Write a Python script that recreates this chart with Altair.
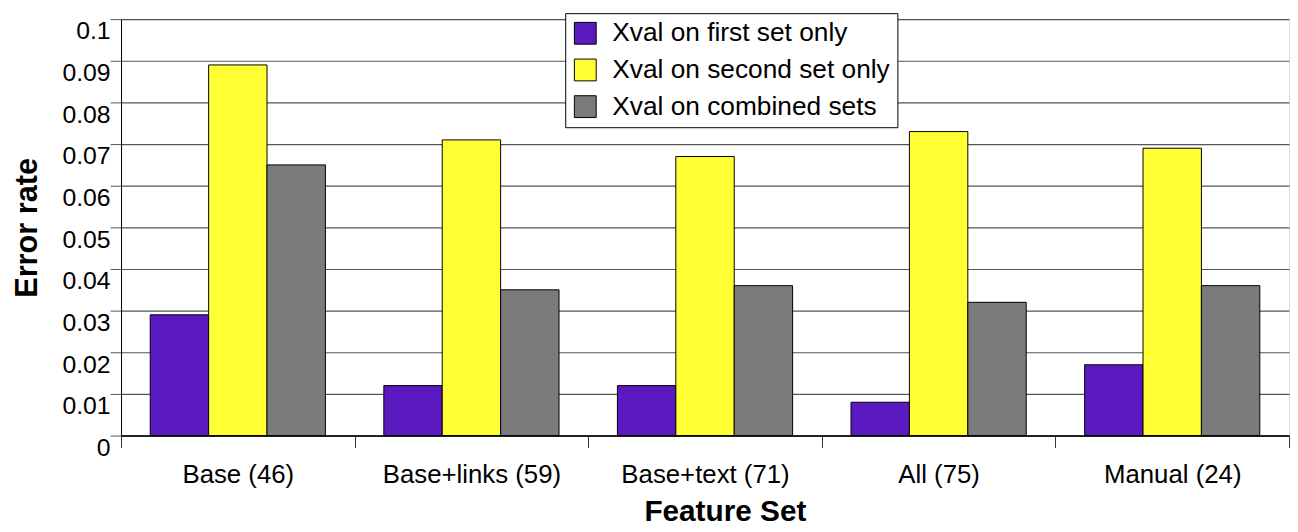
import altair as alt
import pandas as pd

categories = ["Base (46)", "Base+links (59)", "Base+text (71)", "All (75)", "Manual (24)"]
series_names = ["Xval on first set only", "Xval on second set only", "Xval on combined sets"]
first_set = [0.029, 0.012, 0.012, 0.008, 0.017]
second_set = [0.089, 0.071, 0.067, 0.073, 0.069]
combined_sets = [0.065, 0.035, 0.036, 0.032, 0.036]
colors = ["#5b19c0", "#ffff33", "#7b7b7b"]
y_ticks = [0.0, 0.01, 0.02, 0.03, 0.04, 0.05, 0.06, 0.07, 0.08, 0.09, 0.1]

rows = []
for s, vals in zip(series_names, [first_set, second_set, combined_sets]):
    for c, v in zip(categories, vals):
        rows.append({"feature": c, "series": s, "value": v})
df = pd.DataFrame(rows)

FONT = "Liberation Sans"

chart = alt.Chart(df).mark_bar(stroke="black", strokeWidth=1).encode(
    x=alt.X(
        "feature:N",
        sort=categories,
        title="Feature Set",
        scale=alt.Scale(paddingInner=0, paddingOuter=0),
        axis=alt.Axis(
            labelAngle=0,
            tickBand="extent",
            tickSize=12,
            tickColor="#333333",
            labelPadding=14,
            labelFontSize=26,
            labelLimit=400,
            labelColor="black",
            labelFont=FONT,
            domainColor="black",
            domainWidth=1.5,
            grid=False,
            titleFont=FONT,
            titleFontSize=30,
            titleFontWeight="bold",
            titleColor="black",
            titlePadding=10,
            titleX=609,
            titleAlign="center",
        ),
    ),
    xOffset=alt.XOffset("series:N", sort=series_names,
                        scale=alt.Scale(paddingInner=0, paddingOuter=0.5)),
    y=alt.Y(
        "value:Q",
        title="Error rate",
        scale=alt.Scale(domain=[0, 0.1], nice=False),
        axis=alt.Axis(
            values=y_ticks,
            format=".2~f",
            labelBaseline="top",
            labelFontSize=25,
            labelFont=FONT,
            labelColor="black",
            labelPadding=0,
            tickSize=11,
            tickColor="#555555",
            gridColor="#555555",
            gridWidth=1.2,
            domainColor="black",
            domainWidth=1,
            titleFont=FONT,
            titleFontSize=31,
            titleFontWeight="bold",
            titleColor="black",
            titlePadding=19,
        ),
    ),
    color=alt.Color(
        "series:N",
        sort=series_names,
        scale=alt.Scale(domain=series_names, range=colors),
        legend=alt.Legend(
            title=None,
            orient="none",
            legendX=448,
            legendY=-6,
            fillColor="white",
            strokeColor="black",
            padding=7,
            rowPadding=10,
            symbolType="square",
            symbolSize=484,
            symbolStrokeColor="black",
            symbolStrokeWidth=1,
            symbolOpacity=1,
            labelFont=FONT,
            labelFontSize=26.5,
            labelColor="black",
            labelOffset=14,
            labelLimit=400,
        ),
    ),
).properties(
    width=1178,
    height=420,
    padding={"left": 3, "top": 2, "right": 0, "bottom": 0},
).configure_view(strokeWidth=0).configure(background="white")

chart.save("out.html", embed_options={"renderer": "svg", "actions": False})
